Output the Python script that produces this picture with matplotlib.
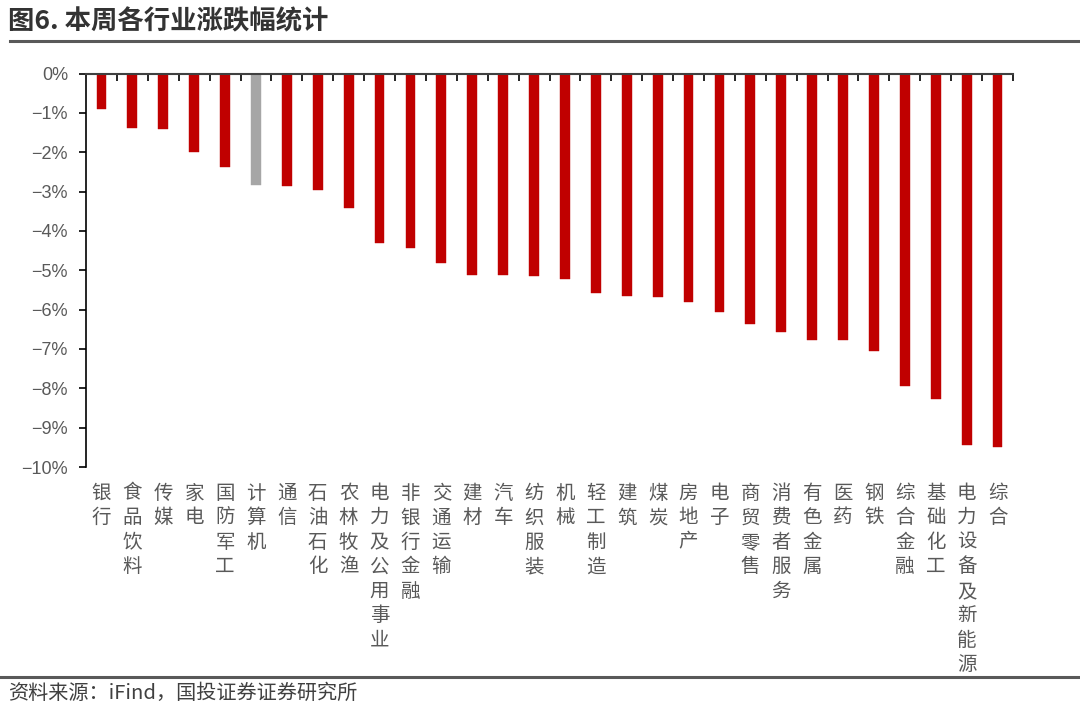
import matplotlib
matplotlib.use("Agg")
import matplotlib.pyplot as plt
from matplotlib.lines import Line2D
from matplotlib.ticker import FuncFormatter

plt.rcParams['font.family'] = ['Noto Sans CJK SC', 'DejaVu Sans']
plt.rcParams['axes.unicode_minus'] = True

industries = ["银行", "食品饮料", "传媒", "家电", "国防军工", "计算机", "通信", "石油石化",
              "农林牧渔", "电力及公用事业", "非银行金融", "交通运输", "建材", "汽车", "纺织服装",
              "机械", "轻工制造", "建筑", "煤炭", "房地产", "电子", "商贸零售", "消费者服务",
              "有色金属", "医药", "钢铁", "综合金融", "基础化工", "电力设备及新能源", "综合"]
changes = [-0.89, -1.39, -1.41, -1.99, -2.38, -2.83, -2.87, -2.96,
           -3.43, -4.32, -4.43, -4.82, -5.12, -5.12, -5.15,
           -5.21, -5.58, -5.65, -5.69, -5.81, -6.05, -6.37, -6.56,
           -6.78, -6.78, -7.06, -7.93, -8.27, -9.45, -9.50]
highlight = "计算机"

W, H = 1080, 707
fig = plt.figure(figsize=(W / 100, H / 100), dpi=100)
ax = fig.add_axes([86 / W, 1 - 467 / H, (1013 - 86) / W, (467 - 73.5) / H])

colors = ["#A6A6A6" if n == highlight else "#C00000" for n in industries]
x = list(range(len(industries)))
ax.bar(x, changes, width=0.32, color=colors, edgecolor=colors, linewidth=0.3)

ax.set_xlim(-0.5, len(industries) - 0.5)
ax.set_ylim(-10, 0)
ax.set_yticks(range(-10, 1))
ax.yaxis.set_major_formatter(FuncFormatter(lambda v, p: f"{int(v)}%".replace("-", "\u2212")))
ax.tick_params(axis='y', direction='out', length=5, width=1.2, colors='black',
               labelcolor='#595959', labelsize=13, pad=8)
for lab in ax.get_yticklabels():
    lab.set_family(['Liberation Sans', 'DejaVu Sans'])

ax.set_xticks([i + 0.5 for i in range(len(industries))])
ax.set_xticklabels([])
ax.xaxis.set_ticks_position('top')
ax.tick_params(axis='x', direction='in', length=5, width=1.2, colors='black')

for s in ['right', 'bottom']:
    ax.spines[s].set_visible(False)
ax.spines['top'].set_color('#404040')
ax.spines['top'].set_linewidth(1.5)
ax.spines['left'].set_color('black')
ax.spines['left'].set_linewidth(1.2)

for i, name in enumerate(industries):
    ax.text(i, -10.4, "\n".join(name), ha='center', va='top', fontsize=14,
            color='#595959', linespacing=1.22)

fig.text(8 / W, 1 - 22 / H, "图6. 本周各行业涨跌幅统计", fontsize=19, fontweight='bold',
         color='#333333', va='center', ha='left')
fig.add_artist(Line2D([10 / W, 1.0], [1 - 41 / H] * 2, color='#595959', linewidth=2.2))
fig.add_artist(Line2D([0.0, 1.0], [1 - 677 / H] * 2, color='#595959', linewidth=2.2))
fig.text(8 / W, 1 - 693 / H, "资料来源：iFind，国投证券证券研究所", fontsize=14.5,
         color='#404040', va='center', ha='left', style='italic')

fig.savefig("out.png", dpi=100)
